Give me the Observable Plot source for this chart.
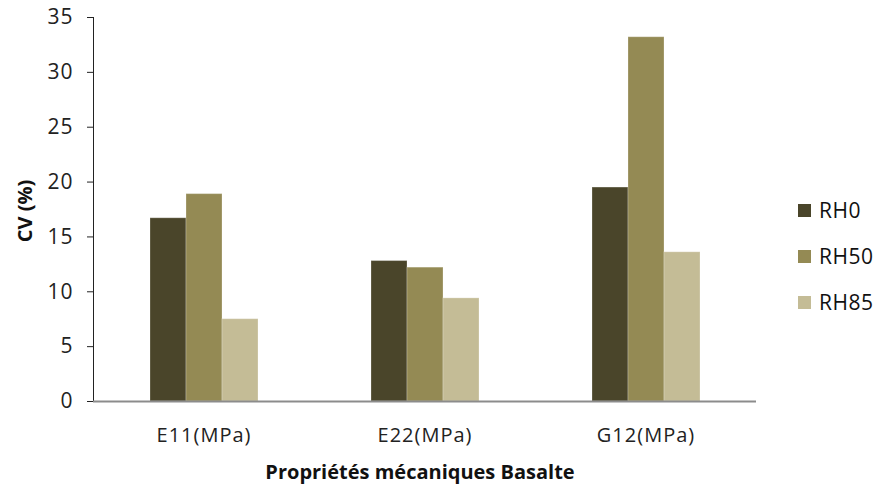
<!DOCTYPE html>
<html>
<head>
<meta charset="utf-8">
<script src="https://cdn.jsdelivr.net/npm/d3@7"></script>
<script src="https://cdn.jsdelivr.net/npm/@observablehq/plot@0.6"></script>
<style>
  html, body { margin: 0; padding: 0; background: #fff; }
  #wrap { position: relative; width: 875px; height: 486px; font-family: "Open Sans", sans-serif; }
  .ytitle { position: absolute; left: 24px; top: 211px; transform: translate(-50%, -50%) rotate(-90deg); font-weight: bold; font-size: 20px; color: #111; white-space: nowrap; }
  .xtitle { position: absolute; left: 420px; top: 471px; transform: translate(-50%, -50%); font-weight: bold; font-size: 20px; color: #111; white-space: nowrap; }
  .legend { position: absolute; left: 798px; top: 0; font-size: 21px; color: #111; letter-spacing: 0.5px; }
  .legend .item { position: absolute; left: 0; display: flex; align-items: center; white-space: nowrap; transform: translateY(-50%); }
  .legend .sw { width: 13px; height: 13px; margin-right: 8px; }
  svg text { letter-spacing: 1px; }
</style>
</head>
<body>
<div id="wrap"></div>
<script>
const categories = ["E11(MPa)", "E22(MPa)", "G12(MPa)"];
const series = ["RH0", "RH50", "RH85"];
const RH0 = [16.7, 12.8, 19.5];
const RH50 = [18.9, 12.2, 33.2];
const RH85 = [7.5, 9.4, 13.6];
const colors = ["#4a452a", "#948a54", "#c4bc96"];
const yTicks = [0, 5, 10, 15, 20, 25, 30, 35];
const yTitle = "CV (%)";
const xTitle = "Propriétés mécaniques Basalte";

const valuesBySeries = {RH0, RH50, RH85};
const data = [];
categories.forEach((c, i) => series.forEach(s => data.push({cat: c, series: s, value: valuesBySeries[s][i]})));

const chart = Plot.plot({
  width: 875,
  height: 486,
  marginLeft: 92,
  marginRight: 118,
  marginTop: 17,
  marginBottom: 85,
  style: {fontFamily: "Open Sans, sans-serif", fontSize: "20px", color: "#222", background: "#fff"},
  fx: {domain: categories, paddingInner: 0, paddingOuter: 0, axis: "bottom", label: null, tickSize: 0, tickPadding: 26},
  x: {domain: series, paddingInner: 0, paddingOuter: 1.5, axis: null},
  y: {domain: [0, 35], ticks: yTicks, tickSize: 6, tickPadding: 14, label: null, line: true},
  color: {domain: series, range: colors},
  marks: [
    Plot.barY(data, {fx: "cat", x: "series", y: "value", fill: "series", stroke: "#ffffff", strokeOpacity: 0.25, strokeWidth: 1, inset: 0}),
    Plot.ruleY([0], {stroke: "#8c8c8c", strokeWidth: 2})
  ]
});

const wrap = document.getElementById("wrap");
wrap.appendChild(chart);
chart.querySelectorAll('[aria-label="y-axis line"], [aria-label="y-axis tick"]').forEach(g => g.setAttribute("stroke", "#8c8c8c"));
chart.querySelectorAll('[aria-label="y-axis tick label"]').forEach(g => g.setAttribute("font-size", "21px"));

const yt = document.createElement("div");
yt.className = "ytitle"; yt.textContent = yTitle; wrap.appendChild(yt);
const xt = document.createElement("div");
xt.className = "xtitle"; xt.textContent = xTitle; wrap.appendChild(xt);

const legend = document.createElement("div");
legend.className = "legend";
const legendY = [210, 256, 302];
series.forEach((s, i) => {
  const it = document.createElement("div");
  it.className = "item";
  it.style.top = legendY[i] + "px";
  const sw = document.createElement("div");
  sw.className = "sw"; sw.style.background = colors[i];
  const tx = document.createElement("span"); tx.textContent = s;
  it.appendChild(sw); it.appendChild(tx);
  legend.appendChild(it);
});
wrap.appendChild(legend);
</script>
</body>
</html>
